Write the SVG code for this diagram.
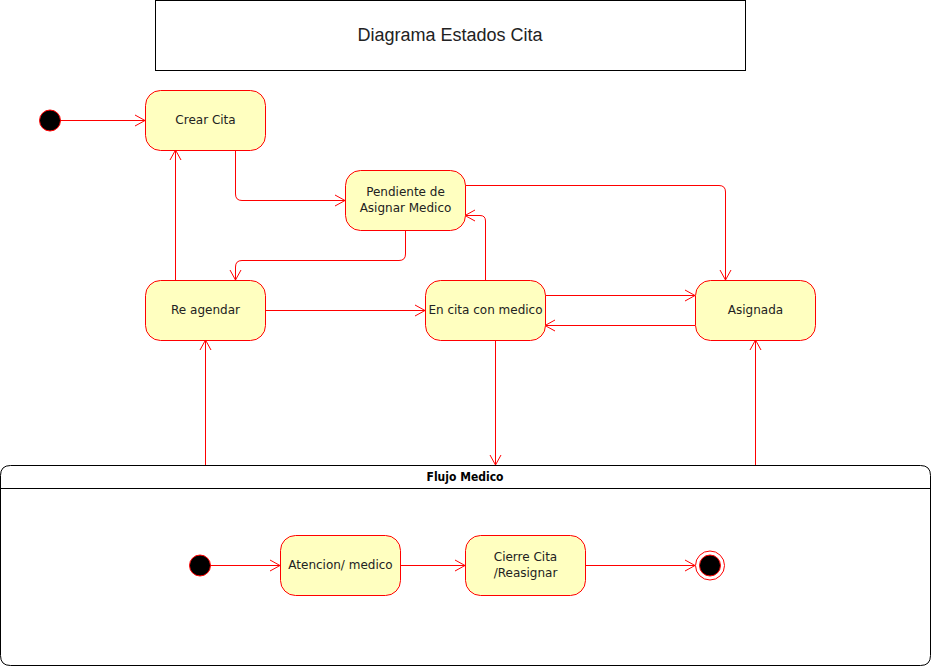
<svg xmlns="http://www.w3.org/2000/svg" width="931" height="666" viewBox="0 0 931 666">
<style>
.st{fill:#ffffc0;stroke:#ff0000;stroke-width:1}
.lbl{font-family:"DejaVu Sans",Verdana,sans-serif;font-size:12px;fill:#222;text-anchor:middle;dominant-baseline:central}
.e{fill:none;stroke:#ff0000;stroke-width:1}
.init{fill:#000;stroke:#ff0000;stroke-width:1}
</style>
<defs>
<marker id="a" markerUnits="userSpaceOnUse" markerWidth="14" markerHeight="14" refX="11" refY="7" orient="auto" viewBox="0 0 14 14">
<path d="M1,1.5 L11,7 L1,12.5" fill="none" stroke="#ff0000" stroke-width="1"/>
</marker>
</defs>
<rect width="931" height="666" fill="#fff"/>
<g id="title">
<rect x="155.5" y="0.5" width="590" height="70" fill="#fff" stroke="#000"/>
<text x="450" y="35" font-family="Liberation Sans,Arial,sans-serif" font-size="18" fill="#222" text-anchor="middle" dominant-baseline="central">Diagrama Estados Cita</text>
</g>
<g id="flujo-medico">
<path d="M10.5,465.5 H920.5 Q930.5,465.5 930.5,475.5 V655.5 Q930.5,665.5 920.5,665.5 H10.5 Q0.5,665.5 0.5,655.5 V475.5 Q0.5,465.5 10.5,465.5 Z" fill="#fff" stroke="#000"/>
<line x1="0.5" y1="488.5" x2="930.5" y2="488.5" stroke="#000"/>
<text x="465" y="476.5" font-family="DejaVu Sans Condensed,DejaVu Sans,sans-serif" font-weight="bold" font-size="12" fill="#000" text-anchor="middle" dominant-baseline="central">Flujo Medico</text>
</g>
<g id="connectors">
<line class="e" x1="60" y1="120.5" x2="145" y2="120.5" marker-end="url(#a)"/>
<path class="e" d="M235.5,150 V194 Q235.5,200.5 242,200.5 H345" marker-end="url(#a)"/>
<path class="e" d="M405.5,230 V254 Q405.5,260.5 399,260.5 H242 Q235.5,260.5 235.5,267 V280" marker-end="url(#a)"/>
<line class="e" x1="175.5" y1="280" x2="175.5" y2="150" marker-end="url(#a)"/>
<path class="e" d="M465,185.5 H719 Q725.5,185.5 725.5,192 V280" marker-end="url(#a)"/>
<path class="e" d="M485.5,280 V221 Q485.5,215.5 480,215.5 H465" marker-end="url(#a)"/>
<line class="e" x1="265" y1="310.5" x2="425" y2="310.5" marker-end="url(#a)"/>
<line class="e" x1="545" y1="295.5" x2="695" y2="295.5" marker-end="url(#a)"/>
<line class="e" x1="695" y1="325.5" x2="545" y2="325.5" marker-end="url(#a)"/>
<line class="e" x1="495.5" y1="340" x2="495.5" y2="465" marker-end="url(#a)"/>
<line class="e" x1="205.5" y1="465" x2="205.5" y2="340" marker-end="url(#a)"/>
<line class="e" x1="755.5" y1="465" x2="755.5" y2="340" marker-end="url(#a)"/>
<line class="e" x1="210" y1="565.5" x2="280" y2="565.5" marker-end="url(#a)"/>
<line class="e" x1="400" y1="565.5" x2="465" y2="565.5" marker-end="url(#a)"/>
<line class="e" x1="585" y1="565.5" x2="695" y2="565.5" marker-end="url(#a)"/>
</g>
<g id="inicio">
<circle class="init" cx="50" cy="120.5" r="10.5"/>
</g>
<g id="crear-cita">
<rect class="st" x="145.5" y="90.5" width="120" height="60" rx="15"/>
<text class="lbl" x="205.5" y="119.5">Crear Cita</text>
</g>
<g id="pendiente">
<rect class="st" x="345.5" y="170.5" width="120" height="60" rx="15"/>
<text class="lbl" x="405.5" y="191.5">Pendiente de</text>
<text class="lbl" x="405.5" y="207.5">Asignar Medico</text>
</g>
<g id="re-agendar">
<rect class="st" x="145.5" y="280.5" width="120" height="60" rx="15"/>
<text class="lbl" x="205.5" y="309.5">Re agendar</text>
</g>
<g id="en-cita">
<rect class="st" x="425.5" y="280.5" width="120" height="60" rx="15"/>
<text class="lbl" x="485.5" y="309.5">En cita con medico</text>
</g>
<g id="asignada">
<rect class="st" x="695.5" y="280.5" width="120" height="60" rx="15"/>
<text class="lbl" x="755.5" y="309.5">Asignada</text>
</g>
<g id="inicio-flujo">
<circle class="init" cx="200" cy="565.5" r="10.5"/>
</g>
<g id="atencion">
<rect class="st" x="280.5" y="535.5" width="120" height="60" rx="15"/>
<text class="lbl" x="340.5" y="564.5">Atencion/ medico</text>
</g>
<g id="cierre">
<rect class="st" x="465.5" y="535.5" width="120" height="60" rx="15"/>
<text class="lbl" x="525.5" y="556.5">Cierre Cita</text>
<text class="lbl" x="525.5" y="572.5">/Reasignar</text>
</g>
<g id="fin">
<circle cx="710" cy="565.5" r="14.5" fill="#fff" stroke="#ff0000"/>
<circle cx="710" cy="565.5" r="10.5" fill="#000" stroke="#ff0000"/>
</g>
</svg>
